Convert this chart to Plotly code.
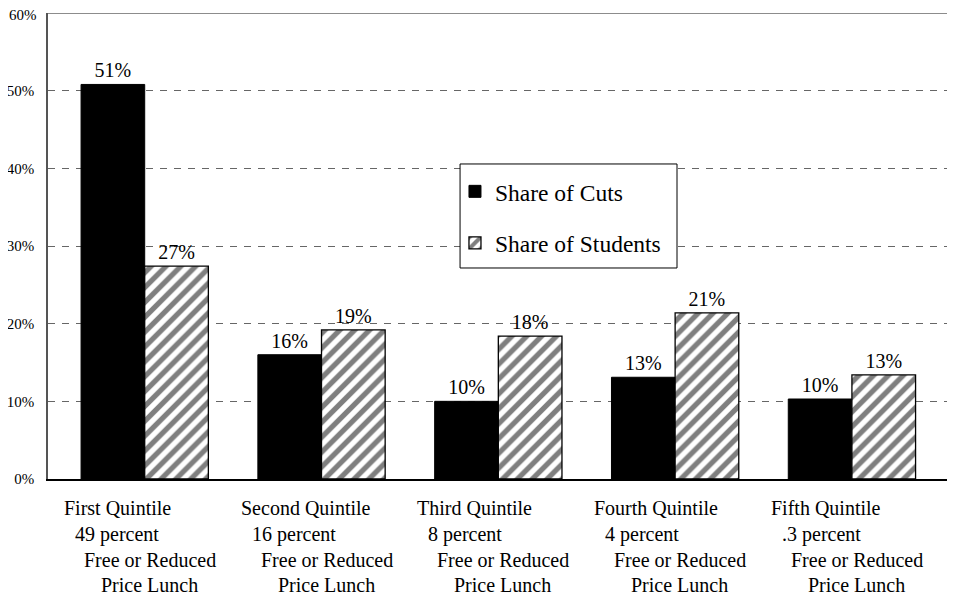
import plotly.graph_objects as go

quintiles = ["First Quintile", "Second Quintile", "Third Quintile", "Fourth Quintile", "Fifth Quintile"]
frl_share = ["49 percent", "16 percent", "8 percent", "4 percent", ".3 percent"]
frl_line3 = "Free or Reduced"
frl_line4 = "Price Lunch"
share_of_cuts = [50.8, 16.0, 10.0, 13.1, 10.3]
share_of_students = [27.4, 19.2, 18.4, 21.4, 13.4]
y_ticks = [0, 10, 20, 30, 40, 50, 60]
y_tick_text = ["0%", "10%", "20%", "30%", "40%", "50%", "60%"]

FONT = "Liberation Serif, Times New Roman, serif"
x_idx = list(range(len(quintiles)))

fig = go.Figure()
fig.add_trace(go.Bar(
    x=x_idx, y=share_of_cuts, name="Share of Cuts",
    marker=dict(color="black", line=dict(color="black", width=1)),
    texttemplate="%{y:.0f}%", textposition="outside",
    textfont=dict(family=FONT, size=20, color="black"),
    cliponaxis=False, legendgroup="a",
))
fig.add_trace(go.Bar(
    x=x_idx, y=share_of_students, name="Share of Students",
    marker=dict(color="white", line=dict(color="black", width=1.3),
                pattern=dict(shape="/", fgcolor="black", bgcolor="white", size=10.5, solidity=0.5)),
    texttemplate="%{y:.0f}%", textposition="outside",
    textfont=dict(family=FONT, size=20, color="black"),
    cliponaxis=False, legendgroup="b",
))

# multi-line category labels, staggered like the original
ann = []
line_specs = [(quintiles, -83, 508), (frl_share, -72, 534),
              ([frl_line3] * 5, -63, 560), ([frl_line4] * 5, -46, 585)]
for texts, xs, ypix in line_specs:
    for i, t in enumerate(texts):
        ann.append(dict(x=i, y=(479 - ypix) / 466, xref="x", yref="paper",
                        text=t, showarrow=False, xanchor="left", yanchor="middle",
                        xshift=xs, font=dict(family=FONT, size=20, color="black")))
# top tick label drawn as annotation so it is not hidden at the figure edge
ann.append(dict(x=0, y=y_ticks[-1], xref="paper", yref="y", text=y_tick_text[-1], showarrow=False,
                xanchor="right", yanchor="middle", xshift=-9, yshift=-2,
                font=dict(family=FONT, size=15, color="black")))

fig.update_layout(
    width=947, height=589,
    margin=dict(l=40, r=0, t=5, b=118),
    paper_bgcolor="white", plot_bgcolor="white",
    barmode="group", bargap=0.28, bargroupgap=0,
    font=dict(family=FONT, color="black"),
    showlegend=True,
    legend=dict(x=0.4487, y=0.664, xanchor="left", yanchor="top",
                bgcolor="rgba(0,0,0,0)", borderwidth=0,
                font=dict(family=FONT, size=23.5, color="black"),
                tracegroupgap=18, itemwidth=30),
    annotations=ann,
    shapes=[
        dict(type="line", xref="paper", yref="y", x0=0, x1=1, y0=60, y1=60,
             line=dict(color="#666666", width=1.5)),
        dict(type="rect", xref="paper", yref="paper", x0=0.4543, x1=0.6935, y0=0.4528, y1=0.676,
             fillcolor="white", line=dict(color="black", width=1), layer="above"),
    ],
)
fig.update_xaxes(range=[-0.547, 4.583], showticklabels=False, showgrid=False,
                 showline=True, linecolor="black", linewidth=1.5, zeroline=False)
fig.update_yaxes(range=[0, 60], tickmode="array", tickvals=y_ticks[:-1], ticktext=y_tick_text[:-1],
                 tickfont=dict(family=FONT, size=15, color="black"),
                 showgrid=True, gridcolor="#666666", griddash="7px,7px", gridwidth=1,
                 showline=True, linecolor="#555555", linewidth=1.5, zeroline=False,
                 ticks="", ticklabelstandoff=9)

fig.write_html("out.html")
